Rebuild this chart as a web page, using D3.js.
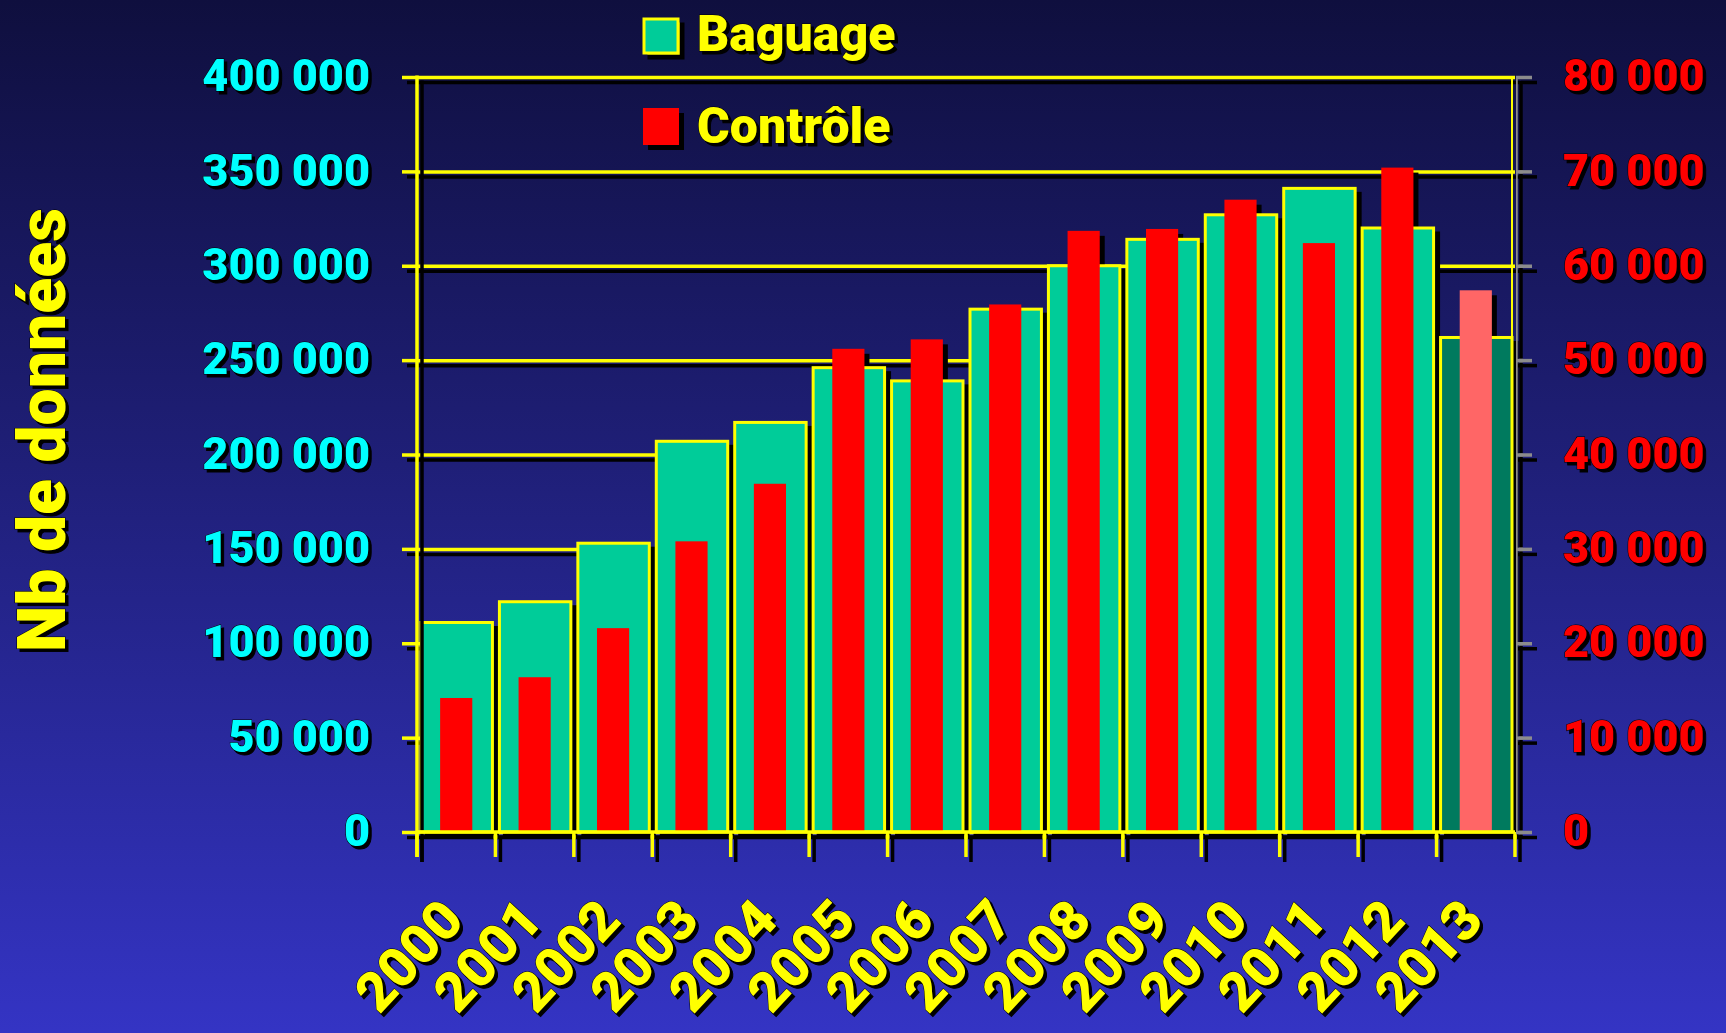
<!DOCTYPE html>
<html>
<head>
<meta charset="utf-8">
<script src="https://cdn.jsdelivr.net/npm/d3@7"></script>
<style>
  html, body { margin: 0; padding: 0; background: #1a1a60; }
  svg { display: block; }
  text { font-family: Roboto, "DejaVu Sans", sans-serif; font-weight: 900; paint-order: stroke; }
</style>
</head>
<body>
<div id="chart"></div>
<script>
// data
var years    = ["2000", "2001", "2002", "2003", "2004", "2005", "2006", "2007", "2008", "2009", "2010", "2011", "2012", "2013"];
var baguage  = [111000, 122000, 153000, 207000, 217000, 246000, 239000, 277000, 300000, 314000, 327000, 341000, 320000, 262000];
var controle = [14200, 16400, 21600, 30800, 36900, 51200, 52200, 55900, 63700, 63900, 67000, 62400, 70400, 57400];
var leftTicks  = [0, 50000, 100000, 150000, 200000, 250000, 300000, 350000, 400000];
var rightTicks = [0, 10000, 20000, 30000, 40000, 50000, 60000, 70000, 80000];
var seriesNames = ["Baguage", "Contrôle"];
var yTitle = "Nb de données";

var width = 1726, height = 1033;
var x0 = 417, x1 = 1515, yTop = 77, yBase = 832;
var yellow = "#ffff00";

var x = d3.scaleBand()
    .domain(years)
    .range([x0, x1]).padding(0);

var yL = d3.scaleLinear()
    .domain([0, 400000])
    .range([yBase, yTop]);

var yR = d3.scaleLinear()
    .domain([0, 80000])
    .range([yBase, yTop]);

var fr = d3.formatLocale({decimal: ",", thousands: " ", grouping: [3], currency: ["", " €"]});
var fmt = fr.format(",d");

var last = years.length - 1;
var bw = x.bandwidth();
var rw = bw * 0.41;

var svg = d3.select("#chart")
    .append("svg")
    .attr("width", width)
    .attr("height", height);

var defs = svg.append("defs");
var grad = defs.append("linearGradient")
    .attr("id", "bg")
    .attr("x1", 0).attr("y1", 0).attr("x2", 0).attr("y2", 1);
grad.append("stop").attr("offset", "0%").attr("stop-color", "#0f0f3e");
grad.append("stop").attr("offset", "45%").attr("stop-color", "#1f1f78");
grad.append("stop").attr("offset", "100%").attr("stop-color", "#3434c4");

defs.append("filter").attr("id", "txtShadow")
    .attr("x", "-10%").attr("y", "-10%").attr("width", "130%").attr("height", "130%")
    .append("feDropShadow")
    .attr("dx", 3).attr("dy", 3).attr("stdDeviation", 0.6)
    .attr("flood-color", "#000").attr("flood-opacity", 1);

defs.append("filter").attr("id", "lineShadow")
    .attr("filterUnits", "userSpaceOnUse")
    .attr("x", 0).attr("y", 0).attr("width", width).attr("height", height)
    .append("feDropShadow")
    .attr("dx", 5).attr("dy", 5).attr("stdDeviation", 0)
    .attr("flood-color", "#000").attr("flood-opacity", 1);

svg.append("rect")
    .attr("width", width)
    .attr("height", height)
    .attr("fill", "url(#bg)");

// grid + left ticks
var grid = svg.append("g")
    .attr("filter", "url(#lineShadow)");

grid.append("g")
    .attr("transform", "translate(" + x0 + ",0)")
    .call(d3.axisLeft(yL).tickValues(leftTicks).tickSize(-(x1 - x0)).tickFormat(""))
    .call(function(g) { g.select(".domain").remove(); })
    .selectAll("line")
    .attr("stroke", yellow)
    .attr("stroke-width", 3.5);

grid.append("g")
    .attr("transform", "translate(" + x0 + ",0)")
    .call(d3.axisLeft(yL).tickValues(leftTicks).tickSize(15).tickFormat(""))
    .call(function(g) { g.select(".domain").remove(); })
    .selectAll("line")
    .attr("stroke", yellow)
    .attr("stroke-width", 3.5);

// right frame edge
svg.append("line")
    .attr("x1", x1 - 3).attr("x2", x1 - 3)
    .attr("y1", yTop).attr("y2", yBase)
    .attr("stroke", yellow)
    .attr("stroke-width", 2);

// shadows of all bars sit behind the bars
var shadows = svg.append("g").attr("transform", "translate(5,5)");

shadows.selectAll(".sb")
    .data(baguage)
    .enter().append("rect")
    .attr("class", "sb")
    .attr("x", function(d, i) { return x(years[i]) + 4; })
    .attr("y", function(d) { return yL(d); })
    .attr("width", bw - 7)
    .attr("height", function(d) { return yBase - yL(d); })
    .attr("fill", "#000")
    .attr("stroke", "#000")
    .attr("stroke-width", 3);

shadows.selectAll(".sc")
    .data(controle)
    .enter().append("rect")
    .attr("class", "sc")
    .attr("x", function(d, i) { return x(years[i]) + (bw - rw) / 2; })
    .attr("y", function(d) { return yR(d); })
    .attr("width", rw)
    .attr("height", function(d) { return yBase - yR(d); })
    .attr("fill", "#000");

svg.append("g").selectAll("rect")
    .data(baguage)
    .enter().append("rect")
    .attr("x", function(d, i) { return x(years[i]) + 4; })
    .attr("y", function(d) { return yL(d); })
    .attr("width", bw - 7)
    .attr("height", function(d) { return yBase - yL(d); })
    .attr("fill", function(d, i) { return i === last ? "#007a5e" : "#00cc99"; })
    .attr("stroke", yellow)
    .attr("stroke-width", 3);

svg.append("g").selectAll("rect")
    .data(controle)
    .enter().append("rect")
    .attr("x", function(d, i) { return x(years[i]) + (bw - rw) / 2; })
    .attr("y", function(d) { return yR(d); })
    .attr("width", rw)
    .attr("height", function(d) { return yBase - yR(d); })
    .attr("fill", function(d, i) { return i === last ? "#ff6666" : "#ff0000"; });

// axis lines
var axes = svg.append("g").attr("filter", "url(#lineShadow)");

axes.append("line")
    .attr("x1", x0).attr("x2", x0)
    .attr("y1", yTop - 1.5).attr("y2", yBase + 25)
    .attr("stroke", yellow).attr("stroke-width", 3.5);

axes.append("line")
    .attr("x1", x0).attr("x2", x1)
    .attr("y1", yBase).attr("y2", yBase)
    .attr("stroke", yellow).attr("stroke-width", 3.5);

var edges = years.map(function(d) { return x(d); }).concat([x.range()[1]]);
axes.selectAll(".edge")
    .data(edges)
    .enter().append("line")
    .attr("class", "edge")
    .attr("x1", function(d) { return d; }).attr("x2", function(d) { return d; })
    .attr("y1", yBase).attr("y2", yBase + 25)
    .attr("stroke", yellow).attr("stroke-width", 3.5);

// right axis (gray)
var axisR = svg.append("g")
    .attr("transform", "translate(" + (x1 + 1) + ",0)")
    .attr("filter", "url(#lineShadow)")
    .call(d3.axisRight(yR).tickValues(rightTicks).tickSize(16).tickFormat(""));
axisR.select(".domain").attr("stroke", "#8c8c8c").attr("stroke-width", 3.5)
    .attr("d", "M0," + (yTop - 1) + "V" + (yBase + 2));
axisR.selectAll("line").attr("stroke", "#8c8c8c").attr("stroke-width", 3.5);

// tick labels
var labels = svg.append("g").attr("filter", "url(#txtShadow)");

labels.selectAll(".lt")
    .data(leftTicks)
    .enter().append("text")
    .attr("class", "lt")
    .attr("x", 370)
    .attr("y", function(d) { return yL(d) - 2; })
    .attr("dy", "0.36em")
    .attr("text-anchor", "end")
    .attr("font-size", 45)
    .attr("fill", "#00ffff")
    .attr("stroke", "#000").attr("stroke-width", 1)
    .text(fmt);

labels.selectAll(".rt")
    .data(rightTicks)
    .enter().append("text")
    .attr("class", "rt")
    .attr("x", 1563)
    .attr("y", function(d) { return yR(d) - 2; })
    .attr("dy", "0.36em")
    .attr("text-anchor", "start")
    .attr("font-size", 45)
    .attr("fill", "#ff0000")
    .attr("stroke", "#000").attr("stroke-width", 1)
    .text(fmt);

var xAxis = labels.append("g")
    .attr("transform", "translate(0," + yBase + ")")
    .call(d3.axisBottom(x).tickSize(0).tickPadding(0));
xAxis.select(".domain").remove();
xAxis.selectAll("text")
    .attr("x", 0).attr("y", 0).attr("dy", 0)
    .attr("text-anchor", "end")
    .attr("transform", "translate(10,90) rotate(-47)")
    .attr("font-size", 55)
    .attr("font-family", "Roboto, 'DejaVu Sans', sans-serif")
    .attr("fill", yellow)
    .attr("stroke", "#000").attr("stroke-width", 1)
    .text(function(d) { return d; });

labels.append("text")
    .attr("transform", "translate(65,430) rotate(-90)")
    .attr("text-anchor", "middle")
    .attr("font-size", 66)
    .attr("fill", yellow)
    .attr("stroke", "#000").attr("stroke-width", 1)
    .text(yTitle);

// legend
var legend = svg.append("g");
var swatch = legend.append("g").attr("filter", "url(#lineShadow)");
swatch.append("rect")
    .attr("x", 644).attr("y", 19).attr("width", 34).attr("height", 34)
    .attr("fill", "#00cc99").attr("stroke", yellow).attr("stroke-width", 3);
swatch.append("rect")
    .attr("x", 643).attr("y", 108).attr("width", 36).attr("height", 37)
    .attr("fill", "#ff0000");

legend.append("g").attr("filter", "url(#txtShadow)")
    .selectAll("text")
    .data(seriesNames)
    .enter().append("text")
    .attr("x", 697)
    .attr("y", function(d, i) { return i === 0 ? 51 : 143; })
    .attr("font-size", 50)
    .attr("fill", yellow)
    .attr("stroke", "#000").attr("stroke-width", 1)
    .text(function(d) { return d; });
</script>
</body>
</html>
